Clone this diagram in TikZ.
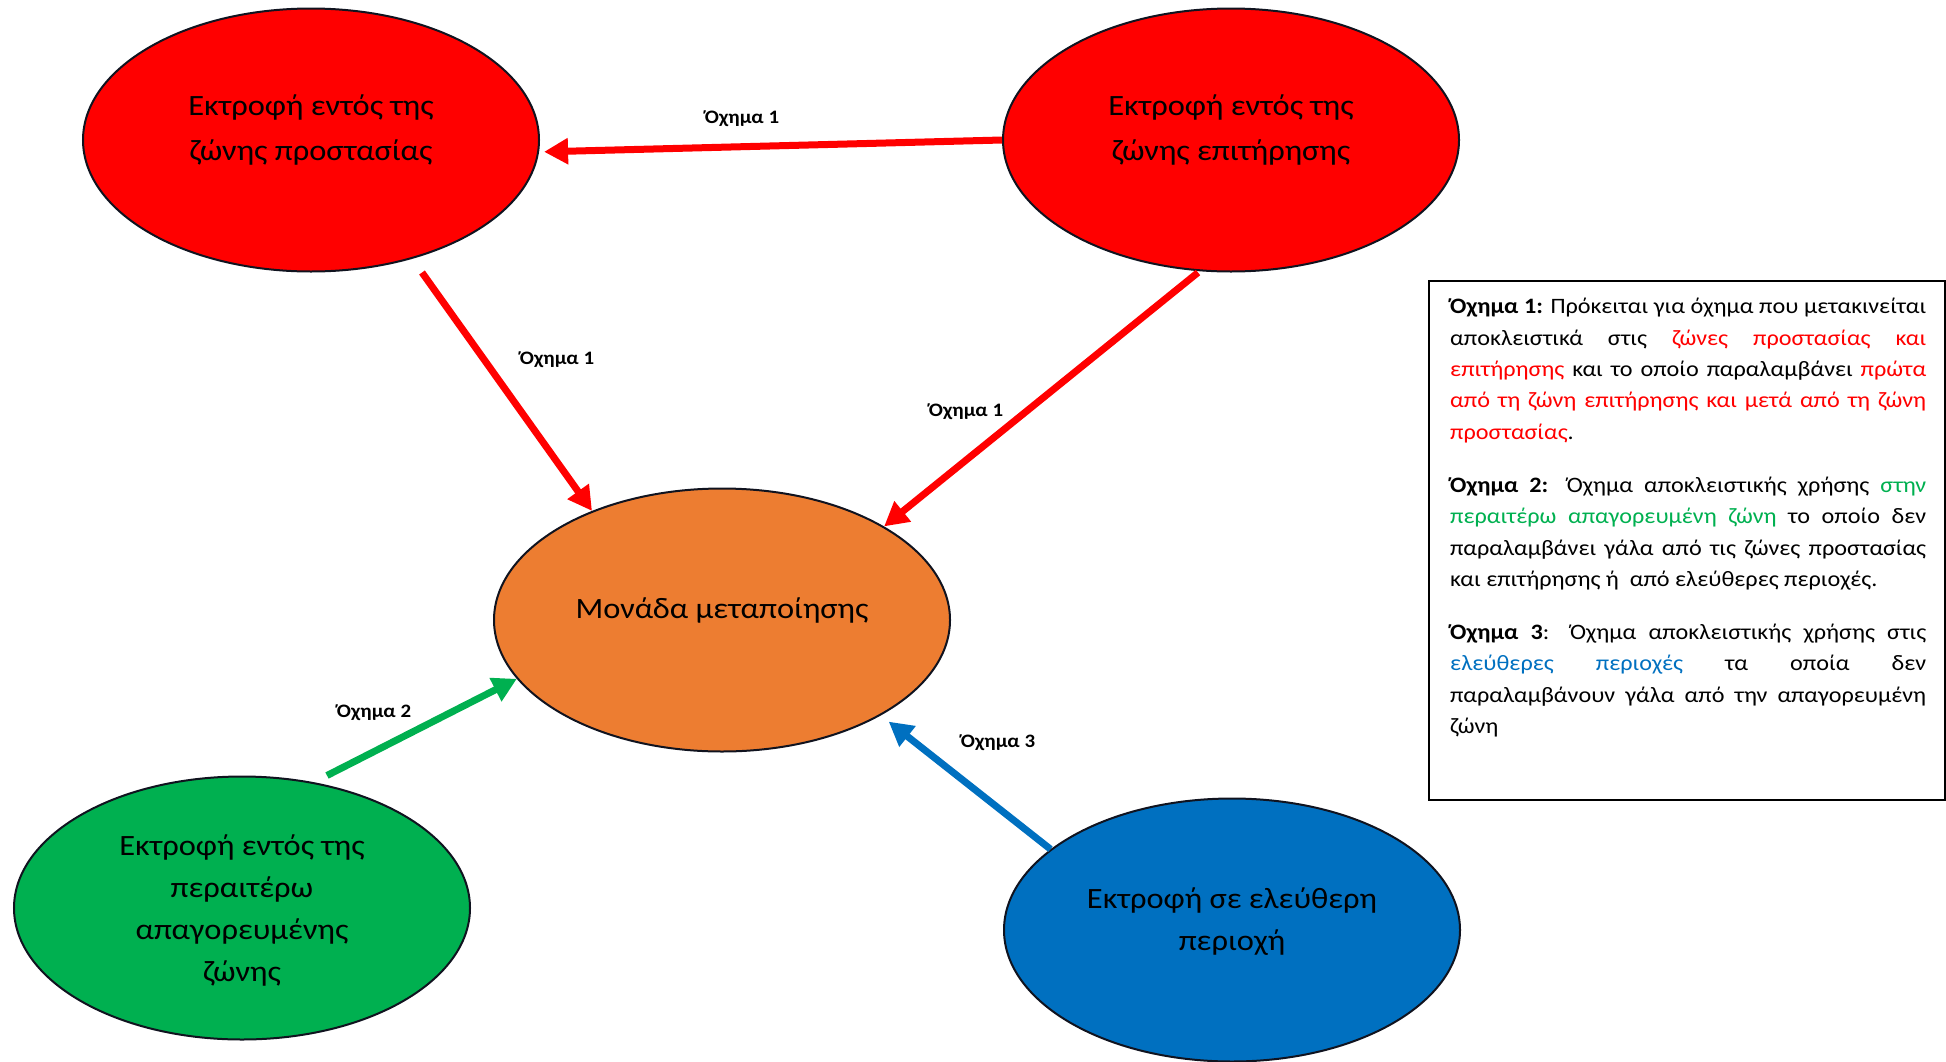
\documentclass[tikz,border=0pt]{standalone}
\usepackage{fontspec}
\setmainfont{Carlito}[FakeStretch=1.1]
\usetikzlibrary{shapes.geometric,arrows.meta}
\definecolor{cred}{HTML}{FF0000}
\definecolor{corange}{HTML}{ED7D31}
\definecolor{cgreen}{HTML}{00B050}
\definecolor{cblue}{HTML}{0070C0}
\definecolor{cline}{HTML}{10131F}
\newcommand\jl[1]{\hbox to 476bp{#1}}
\newcommand\nl[1]{\hbox{#1}}
\begin{document}
\begin{tikzpicture}[x=1bp,y=-1bp,
  blob/.style={ellipse, draw=cline, line width=2bp, minimum width=456bp, minimum height=263bp, inner sep=0pt},
  etext/.style={anchor=base, inner sep=0pt, font=\fontsize{29.5bp}{#1}\selectfont},
  etext/.default={43bp},
  conn/.style={line width=7bp, -{Triangle[length=24bp,width=25bp]}},
  lbl/.style={inner sep=0pt, font=\fontsize{19bp}{22bp}\selectfont\bfseries},
  infobox/.style={draw=black, line width=2bp, minimum width=516bp, minimum height=519bp, anchor=north west, inner sep=0pt}
]
\useasboundingbox (0,0) rectangle (1946,1061);

% ellipses
\node[blob, fill=cred] (e1) at (311,140) {};
\node[blob, fill=cred] (e2) at (1231,140) {};
\node[blob, fill=corange] (m) at (722,620) {};
\node[blob, fill=cgreen] (g) at (242,908) {};
\node[blob, fill=cblue] (b) at (1232,930) {};

% ellipse texts
\node[etext={45bp}] (e1t) at (311,115) {\begin{tabular}[t]{@{}c@{}}Εκτροφή εντός της\\ζώνης προστασίας\end{tabular}};
\node[etext={45bp}] (e2t) at (1231,115) {\begin{tabular}[t]{@{}c@{}}Εκτροφή εντός της\\ζώνης επιτήρησης\end{tabular}};
\node[etext] (mt) at (722,618) {Μονάδα μεταποίησης};
\node[etext={42bp}] (gt) at (242,855) {\begin{tabular}[t]{@{}c@{}}Εκτροφή εντός της\\περαιτέρω\\απαγορευμένης\\ζώνης\end{tabular}};
\node[etext={42bp}] (bt) at (1232,908) {\begin{tabular}[t]{@{}c@{}}Εκτροφή σε ελεύθερη\\περιοχή\end{tabular}};

% connectors
\draw[conn, cred, shorten >=5bp] (e2.west) -- (e1.-3);
\draw[conn, cred] ([xshift=111bp]e1.south) -- (m.140.7);
\draw[conn, cred] ([xshift=-33bp]e2.south) -- (m.30.4);
\draw[conn, cgreen] ([xshift=85bp]g.north) -- (m.196.3);
\draw[conn, cblue, shorten >=10bp] (b.156.4) -- (m.-31.5);

% connector labels
\node[lbl] (l1) at (742,119) {Όχημα 1};
\node[lbl] (l2) at (557,360) {Όχημα 1};
\node[lbl] (l3) at (966,412) {Όχημα 1};
\node[lbl] (l4) at (374,713) {Όχημα 2};
\node[lbl] (l5) at (998,743) {Όχημα 3};

% info box
\node[infobox] (box) at (1428,280) {};
\node[anchor=north west, inner sep=0pt] (txt) at (1450,298) {\vbox{%
\fontsize{22bp}{31.4bp}\selectfont
\jl{\textbf{Όχημα 1:} Πρόκειται για όχημα που μετακινείται}
\jl{αποκλειστικά στις \textcolor{cred}{ζώνες προστασίας και}}
\jl{\textcolor{cred}{επιτήρησης} και το οποίο παραλαμβάνει \textcolor{cred}{πρώτα}}
\jl{\textcolor{cred}{από τη ζώνη επιτήρησης και μετά από τη ζώνη}}
\nl{\textcolor{cred}{προστασίας}.}
\vskip 21.6bp
\jl{\textbf{Όχημα 2:} Όχημα αποκλειστικής χρήσης \textcolor{cgreen}{στην}}
\jl{\textcolor{cgreen}{περαιτέρω απαγορευμένη ζώνη} το οποίο δεν}
\jl{παραλαμβάνει γάλα από τις ζώνες προστασίας}
\nl{και επιτήρησης ή\ \ από ελεύθερες περιοχές.}
\vskip 21.6bp
\jl{\textbf{Όχημα 3}: Όχημα αποκλειστικής χρήσης στις}
\jl{\textcolor{cblue}{ελεύθερες περιοχές} τα οποία δεν}
\jl{παραλαμβάνουν γάλα από την απαγορευμένη}
\nl{ζώνη}}};
\end{tikzpicture}
\end{document}
